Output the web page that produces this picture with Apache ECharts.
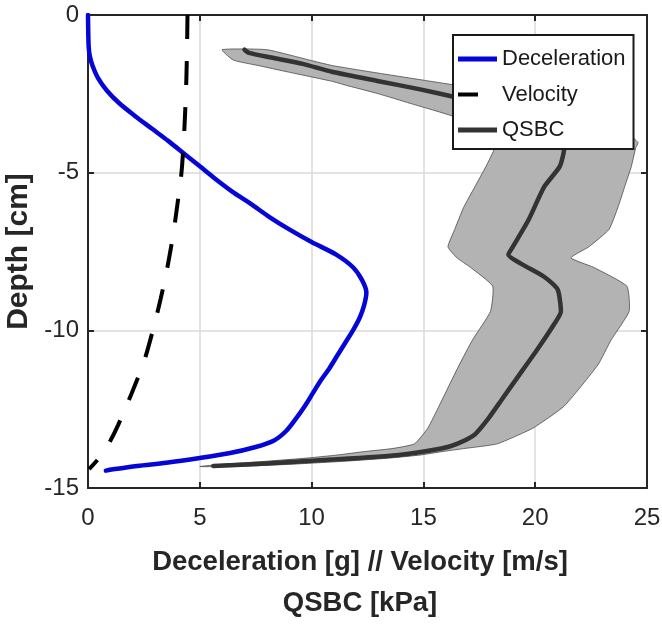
<!DOCTYPE html>
<html>
<head>
<meta charset="utf-8">
<script src="https://cdn.jsdelivr.net/npm/echarts@6/dist/echarts.min.js"></script>
<style>
html,body{margin:0;padding:0;background:#fff;}
#chart{width:662px;height:624px;}
</style>
</head>
<body>
<div id="chart"></div>
<script>
// ---- data ----
var xTicks = [0, 5, 10, 15, 20, 25];
var yTicks = [0, -5, -10, -15];

var decelDepth = [0, -0.5, -1.0, -1.3, -1.6, -2.0, -2.4, -2.8, -3.2, -3.6, -4.0, -4.4, -4.8, -5.2, -5.6, -6.0, -6.4, -6.8, -7.2, -7.6, -8.0, -8.4, -8.8, -9.2, -9.6, -10.0, -10.4, -10.8, -11.2, -11.6, -12.0, -12.4, -12.8, -13.2, -13.5, -13.7, -13.9, -14.05, -14.2, -14.3, -14.4, -14.45];
var decelValue = [0, 0.01, 0.03, 0.08, 0.2, 0.45, 0.85, 1.4, 2.1, 2.85, 3.6, 4.3, 5.0, 5.7, 6.45, 7.3, 8.1, 9.0, 10.0, 11.1, 11.85, 12.25, 12.45, 12.35, 12.15, 11.85, 11.5, 11.15, 10.8, 10.4, 10.05, 9.7, 9.3, 8.85, 8.3, 7.5, 6.3, 5.0, 3.5, 2.2, 1.2, 0.8];

var velDepth = [0, -1, -2, -3, -4, -5, -6, -7, -8, -9, -10, -11, -12, -13, -13.5, -14, -14.4];
var velValue = [4.45, 4.43, 4.4, 4.35, 4.28, 4.18, 4.0, 3.8, 3.55, 3.25, 2.9, 2.5, 1.95, 1.35, 1.0, 0.55, 0.05];

var qsbcDepth = [-1.10, -1.20, -1.35, -1.55, -1.80, -2.10, -2.35, -2.60, -2.90, -3.30, -3.80, -4.20, -4.80, -5.45, -6.50, -7.35, -7.60, -7.90, -8.30, -8.70, -9.40, -9.80, -10.60, -11.50, -12.20, -12.80, -13.30, -13.60, -13.75, -13.95, -14.10, -14.22, -14.30];
var qsbcValue = [7.0, 7.2, 8.2, 9.6, 10.9, 13.0, 14.8, 16.4, 18.2, 20.0, 21.0, 21.3, 21.1, 20.4, 19.7, 19.0, 18.8, 19.4, 20.4, 21.0, 21.15, 20.85, 20.1, 19.2, 18.5, 17.9, 17.3, 16.5, 15.8, 13.9, 10.9, 8.0, 5.6];

var bandDepth = [-1.10, -1.43, -1.60, -1.80, -2.10, -2.22, -2.50, -2.80, -3.23, -3.60, -3.90, -4.05, -4.20, -4.80, -5.45, -6.10, -6.80, -7.35, -7.70, -8.00, -8.60, -9.40, -10.30, -11.10, -12.40, -13.10, -13.60, -13.75, -13.85, -13.95, -14.05, -14.15, -14.25, -14.32];
var bandLow = [6.0, 6.5, 7.6, 8.9, 10.9, 11.5, 13.0, 14.4, 16.4, 17.3, 17.9, 18.1, 18.2, 17.8, 17.3, 16.8, 16.4, 16.1, 16.5, 17.1, 18.1, 18.0, 17.2, 16.6, 15.7, 15.2, 14.6, 13.6, 12.3, 11.2, 9.8, 8.0, 6.0, 5.0];
var bandHigh = [8.0, 9.9, 10.9, 12.6, 15.3, 16.4, 19.0, 21.6, 23.5, 24.1, 24.4, 24.6, 24.5, 24.3, 24.0, 23.7, 23.3, 22.4, 21.6, 22.6, 24.1, 24.2, 23.4, 22.8, 21.3, 19.9, 18.3, 16.8, 15.8, 14.9, 13.5, 11.5, 9.0, 6.5];

var seriesNames = ['Deceleration', 'Velocity', 'QSBC'];

// ---- chart ----
function pairs(vals, deps) { return vals.map(function (v, i) { return [v, deps[i]]; }); }

var font = '"Liberation Sans", Arial, sans-serif';
var axisColor = '#262626';
var chart = echarts.init(document.getElementById('chart'), null, { renderer: 'canvas' });

var baseX = { type: 'value', min: xTicks[0], max: xTicks[xTicks.length - 1], interval: 5 };
var baseY = { type: 'value', min: yTicks[yTicks.length - 1], max: yTicks[0], interval: 5 };

var blue = '#0505d8', black = '#000000', dark = '#333333';

chart.setOption({
  animation: false,
  backgroundColor: '#ffffff',
  grid: { left: 88, right: 15, top: 15, bottom: 136, containLabel: false, outerBoundsMode: 'none' },
  legend: {
    data: [
      { name: seriesNames[0], icon: 'rect', itemStyle: { color: blue } },
      { name: seriesNames[1], icon: 'path://M0,0H20V4H0Z M39,0L39,4', itemStyle: { color: black } },
      { name: seriesNames[2], icon: 'rect', itemStyle: { color: dark } }
    ],
    orient: 'vertical',
    left: 453, top: 35,
    itemWidth: 39, itemHeight: 5, itemGap: 9.5,
    padding: [11, 8, 6, 5],
    backgroundColor: '#ffffff',
    borderColor: '#1a1a1a', borderWidth: 2,
    textStyle: { fontFamily: font, fontSize: 22, color: '#1a1a1a', lineHeight: 26 },
    selectedMode: false
  },
  xAxis: [
    Object.assign({}, baseX, {
      position: 'bottom',
      name: 'Deceleration [g] // Velocity [m/s]\nQSBC [kPa]',
      nameLocation: 'middle', nameGap: 54,
      nameTextStyle: { fontFamily: font, fontWeight: 'bold', fontSize: 27.5, color: '#262626', lineHeight: 41, padding: [0, 15, 0, 0] },
      axisLine: { show: true, onZero: false, lineStyle: { color: axisColor, width: 2 } },
      axisTick: { show: true, inside: true, length: 6, lineStyle: { color: axisColor, width: 2 } },
      axisLabel: { show: true, margin: 18, fontFamily: font, fontSize: 24, color: '#262626',
        formatter: function (v) { return xTicks.indexOf(v) >= 0 ? String(v) : ''; } },
      splitLine: { show: true, lineStyle: { color: '#dadada', width: 1.5 } }
    }),
    Object.assign({}, baseX, {
      position: 'top',
      axisLine: { show: true, onZero: false, lineStyle: { color: axisColor, width: 2 } },
      axisTick: { show: true, inside: true, length: 6, lineStyle: { color: axisColor, width: 2 } },
      axisLabel: { show: false },
      splitLine: { show: false }
    })
  ],
  yAxis: [
    Object.assign({}, baseY, {
      position: 'left',
      name: 'Depth [cm]',
      nameLocation: 'middle', nameGap: 51, nameRotate: 90,
      nameTextStyle: { fontFamily: font, fontWeight: 'bold', fontSize: 30, color: '#262626' },
      axisLine: { show: true, onZero: false, lineStyle: { color: axisColor, width: 2 } },
      axisTick: { show: true, inside: true, length: 6, lineStyle: { color: axisColor, width: 2 } },
      axisLabel: { show: true, margin: 9, fontFamily: font, fontSize: 24, color: '#262626',
        formatter: function (v) { return yTicks.indexOf(v) >= 0 ? String(v) : ''; } },
      splitLine: { show: true, lineStyle: { color: '#dadada', width: 1.5 } }
    }),
    Object.assign({}, baseY, {
      position: 'right',
      axisLine: { show: true, onZero: false, lineStyle: { color: axisColor, width: 2 } },
      axisTick: { show: true, inside: true, length: 6, lineStyle: { color: axisColor, width: 2 } },
      axisLabel: { show: false },
      splitLine: { show: false }
    })
  ],
  series: [
    {
      name: 'QSBC band',
      type: 'custom',
      xAxisIndex: 0, yAxisIndex: 0,
      z: 1,
      silent: true,
      data: bandDepth.map(function (d, i) { return [bandLow[i], bandHigh[i], d]; }),
      encode: { x: [0, 1], y: 2 },
      renderItem: function (params, api) {
        if (params.dataIndex !== 0) return null;
        var pts = [];
        for (var i = 0; i < bandDepth.length; i++) pts.push(api.coord([bandLow[i], bandDepth[i]]));
        for (var j = bandDepth.length - 1; j >= 0; j--) pts.push(api.coord([bandHigh[j], bandDepth[j]]));
        return {
          type: 'polygon',
          shape: { points: pts, smooth: 0.15 },
          style: { fill: '#b3b3b3', stroke: '#4a4a4a', lineWidth: 0.8 }
        };
      }
    },
    {
      name: 'Deceleration', type: 'line', xAxisIndex: 0, yAxisIndex: 0, z: 3,
      data: pairs(decelValue, decelDepth), symbol: 'none', smooth: 0.3,
      lineStyle: { color: blue, width: 4.5, cap: 'round', join: 'round' },
      itemStyle: { color: blue }
    },
    {
      name: 'Velocity', type: 'line', xAxisIndex: 0, yAxisIndex: 0, z: 3,
      data: pairs(velValue, velDepth), symbol: 'none', smooth: 0.3,
      lineStyle: { color: black, width: 4, type: [24, 22] },
      itemStyle: { color: black }
    },
    {
      name: 'QSBC', type: 'line', xAxisIndex: 0, yAxisIndex: 0, z: 3,
      data: pairs(qsbcValue, qsbcDepth), symbol: 'none', smooth: 0.2,
      lineStyle: { color: dark, width: 4.5, cap: 'round', join: 'round' },
      itemStyle: { color: dark }
    }
  ]
});
</script>
</body>
</html>
